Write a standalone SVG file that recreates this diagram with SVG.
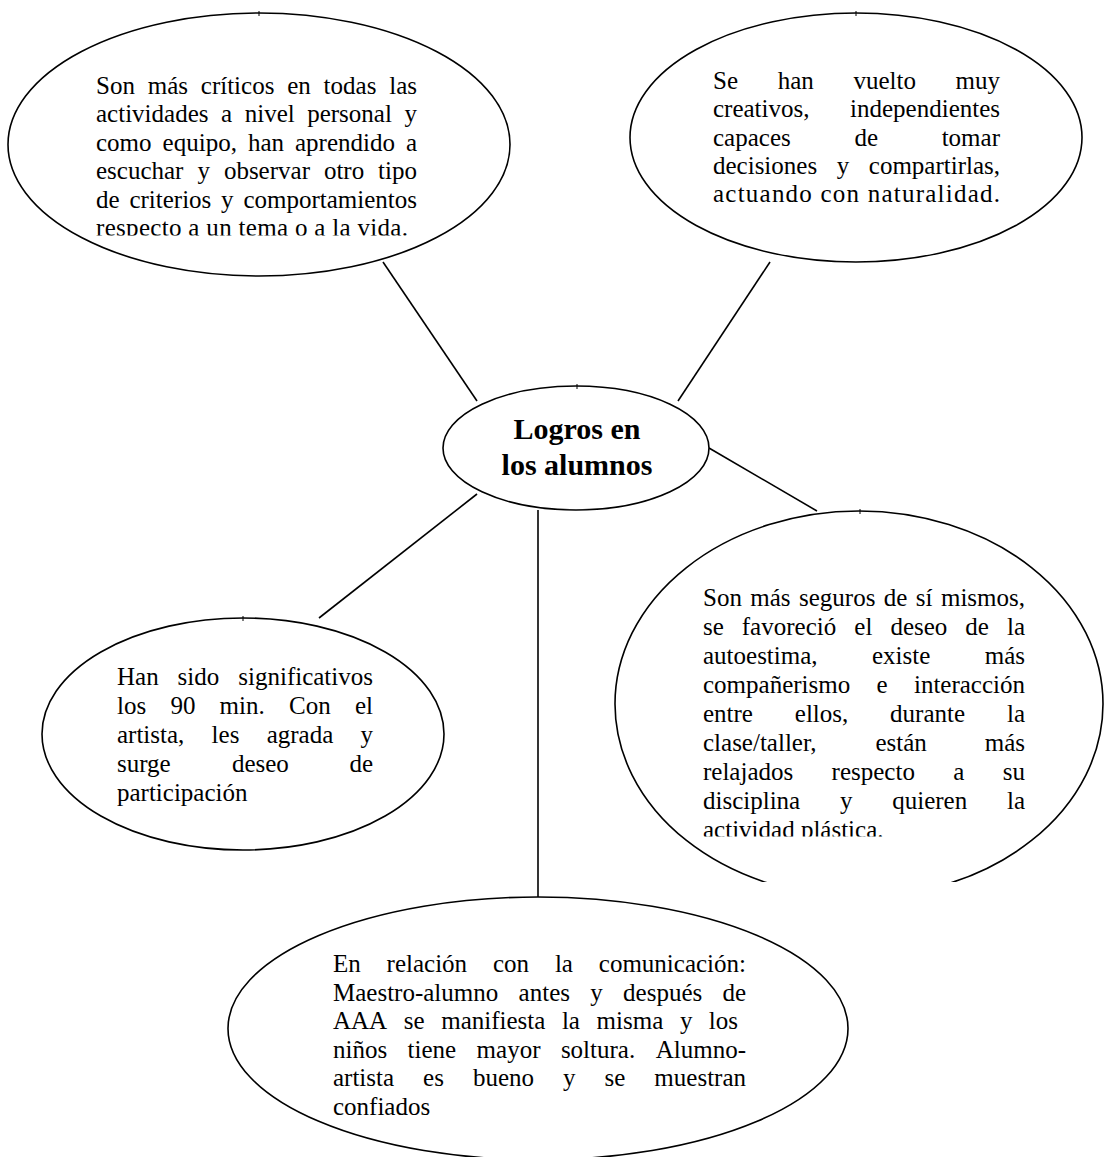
<svg xmlns="http://www.w3.org/2000/svg" width="1104" height="1157" viewBox="0 0 1104 1157">
<style>
.shape{fill:#fff;stroke:#000;stroke-width:1.6}
.tick{stroke:#000;stroke-width:1}
.conn line{stroke:#000;stroke-width:1.6}
text{font-family:"Liberation Serif","Times New Roman",serif;font-size:25px;fill:#000}
.e{text-anchor:end}
.title{font-weight:bold;font-size:30px;text-anchor:middle}
</style>
<defs>
<clipPath id="clipTL"><rect x="0" y="0" width="1104" height="235.5"/></clipPath>
<clipPath id="clipBRtext"><rect x="0" y="0" width="1104" height="836.5"/></clipPath>
<clipPath id="clipBR"><rect x="0" y="0" width="1104" height="882"/></clipPath>
</defs>
<rect width="1104" height="1157" fill="#fff"/>
<g id="connectors" class="conn">
<line x1="383" y1="262" x2="477" y2="401"/>
<line x1="770" y1="262" x2="678" y2="401"/>
<line x1="709" y1="448" x2="817" y2="511"/>
<line x1="477" y1="494" x2="319" y2="618"/>
<line x1="538" y1="510" x2="538" y2="897"/>
</g>
<g id="node-top-left">
<ellipse class="shape" cx="259" cy="144.5" rx="251" ry="131.5"/>
<line class="tick" x1="259" y1="11" x2="259" y2="16"/>
<g clip-path="url(#clipTL)">
<text y="93.5"><tspan x="96">Son </tspan><tspan x="147.7">más </tspan><tspan x="200.8">críticos </tspan><tspan x="287.2">en </tspan><tspan x="323.6">todas </tspan><tspan x="417" class="e">las</tspan></text>
<text y="122"><tspan x="96">actividades </tspan><tspan x="221">a </tspan><tspan x="244.7">nivel </tspan><tspan x="307.2">personal </tspan><tspan x="417" class="e">y</tspan></text>
<text y="150.5"><tspan x="96">como </tspan><tspan x="162.6">equipo, </tspan><tspan x="247.9">han </tspan><tspan x="295">aprendido </tspan><tspan x="417" class="e">a</tspan></text>
<text y="179"><tspan x="96">escuchar </tspan><tspan x="197.4">y </tspan><tspan x="223.9">observar </tspan><tspan x="323.9">otro </tspan><tspan x="417" class="e">tipo</tspan></text>
<text y="207.5"><tspan x="96">de </tspan><tspan x="129.4">criterios </tspan><tspan x="221.1">y </tspan><tspan x="417" class="e">comportamientos</tspan></text>
<text x="96" y="236" textLength="312" lengthAdjust="spacing">respecto a un tema o a la vida.</text>
</g>
</g>
<g id="node-top-right">
<ellipse class="shape" cx="856" cy="137.5" rx="226" ry="124.5"/>
<line class="tick" x1="856" y1="11" x2="856" y2="16"/>
<text y="89"><tspan x="713">Se </tspan><tspan x="777.7">han </tspan><tspan x="853.4">vuelto </tspan><tspan x="1000" class="e">muy</tspan></text>
<text y="117.3"><tspan x="713">creativos, </tspan><tspan x="1000" class="e">independientes</tspan></text>
<text y="145.6"><tspan x="713">capaces </tspan><tspan x="854.4">de </tspan><tspan x="1000" class="e">tomar</tspan></text>
<text y="173.9"><tspan x="713">decisiones </tspan><tspan x="836.7">y </tspan><tspan x="1000" class="e">compartirlas,</tspan></text>
<text x="713" y="202.2" textLength="287" lengthAdjust="spacing">actuando con naturalidad.</text>
</g>
<g id="node-center">
<ellipse class="shape" cx="576" cy="448" rx="133" ry="62"/>
<line class="tick" x1="577" y1="384" x2="577" y2="389"/>
<text class="title" x="577" y="439">Logros en</text>
<text class="title" x="577" y="475">los alumnos</text>
</g>
<g id="node-bottom-right">
<g clip-path="url(#clipBR)">
<ellipse class="shape" cx="859" cy="704" rx="244" ry="193"/>
</g>
<line class="tick" x1="860" y1="509" x2="860" y2="514"/>
<g clip-path="url(#clipBRtext)">
<text y="605.5"><tspan x="703">Son </tspan><tspan x="750.3">más </tspan><tspan x="799">seguros </tspan><tspan x="883.8">de </tspan><tspan x="915.8">sí </tspan><tspan x="1025" class="e">mismos,</tspan></text>
<text y="634.5"><tspan x="703">se </tspan><tspan x="741.8">favoreció </tspan><tspan x="854.3">el </tspan><tspan x="890.4">deseo </tspan><tspan x="965.3">de </tspan><tspan x="1025" class="e">la</tspan></text>
<text y="663.5"><tspan x="703">autoestima, </tspan><tspan x="872">existe </tspan><tspan x="1025" class="e">más</tspan></text>
<text y="692.5"><tspan x="703">compañerismo </tspan><tspan x="876.5">e </tspan><tspan x="1025" class="e">interacción</tspan></text>
<text y="721.5"><tspan x="703">entre </tspan><tspan x="794.8">ellos, </tspan><tspan x="890.1">durante </tspan><tspan x="1025" class="e">la</tspan></text>
<text y="750.5"><tspan x="703">clase/taller, </tspan><tspan x="875.4">están </tspan><tspan x="1025" class="e">más</tspan></text>
<text y="779.5"><tspan x="703">relajados </tspan><tspan x="831.6">respecto </tspan><tspan x="953.3">a </tspan><tspan x="1025" class="e">su</tspan></text>
<text y="808.5"><tspan x="703">disciplina </tspan><tspan x="840">y </tspan><tspan x="892.2">quieren </tspan><tspan x="1025" class="e">la</tspan></text>
<text x="703" y="837.5">actividad plástica.</text>
</g>
</g>
<g id="node-left">
<ellipse class="shape" cx="243" cy="734" rx="201" ry="116"/>
<line class="tick" x1="243" y1="616" x2="243" y2="621"/>
<text y="685"><tspan x="117">Han </tspan><tspan x="177.6">sido </tspan><tspan x="373" class="e">significativos</tspan></text>
<text y="714"><tspan x="117">los </tspan><tspan x="170.4">90 </tspan><tspan x="219.6">min. </tspan><tspan x="289">Con </tspan><tspan x="373" class="e">el</tspan></text>
<text y="743"><tspan x="117">artista, </tspan><tspan x="211.6">les </tspan><tspan x="266.7">agrada </tspan><tspan x="373" class="e">y</tspan></text>
<text y="772"><tspan x="117">surge </tspan><tspan x="231.9">deseo </tspan><tspan x="373" class="e">de</tspan></text>
<text x="117" y="801">participación</text>
</g>
<g id="node-bottom">
<ellipse class="shape" cx="538" cy="1028.4" rx="310" ry="131.4"/>
<text y="972"><tspan x="333">En </tspan><tspan x="386.6">relación </tspan><tspan x="492.9">con </tspan><tspan x="554.9">la </tspan><tspan x="746" class="e">comunicación:</tspan></text>
<text y="1000.5"><tspan x="333">Maestro-alumno </tspan><tspan x="518.6">antes </tspan><tspan x="590.3">y </tspan><tspan x="623.1">después </tspan><tspan x="746" class="e">de</tspan></text>
<text y="1029"><tspan x="333">AAA </tspan><tspan x="403.8">se </tspan><tspan x="441.2">manifiesta </tspan><tspan x="561.9">la </tspan><tspan x="596.6">misma </tspan><tspan x="679.9">y </tspan><tspan x="738" class="e">los</tspan></text>
<text y="1057.5"><tspan x="333">niños </tspan><tspan x="407.6">tiene </tspan><tspan x="476.6">mayor </tspan><tspan x="560.9">soltura. </tspan><tspan x="746" class="e">Alumno-</tspan></text>
<text y="1086"><tspan x="333">artista </tspan><tspan x="423.1">es </tspan><tspan x="472.9">bueno </tspan><tspan x="563">y </tspan><tspan x="604.5">se </tspan><tspan x="746" class="e">muestran</tspan></text>
<text x="333" y="1114.5">confiados</text>
</g>
</svg>
